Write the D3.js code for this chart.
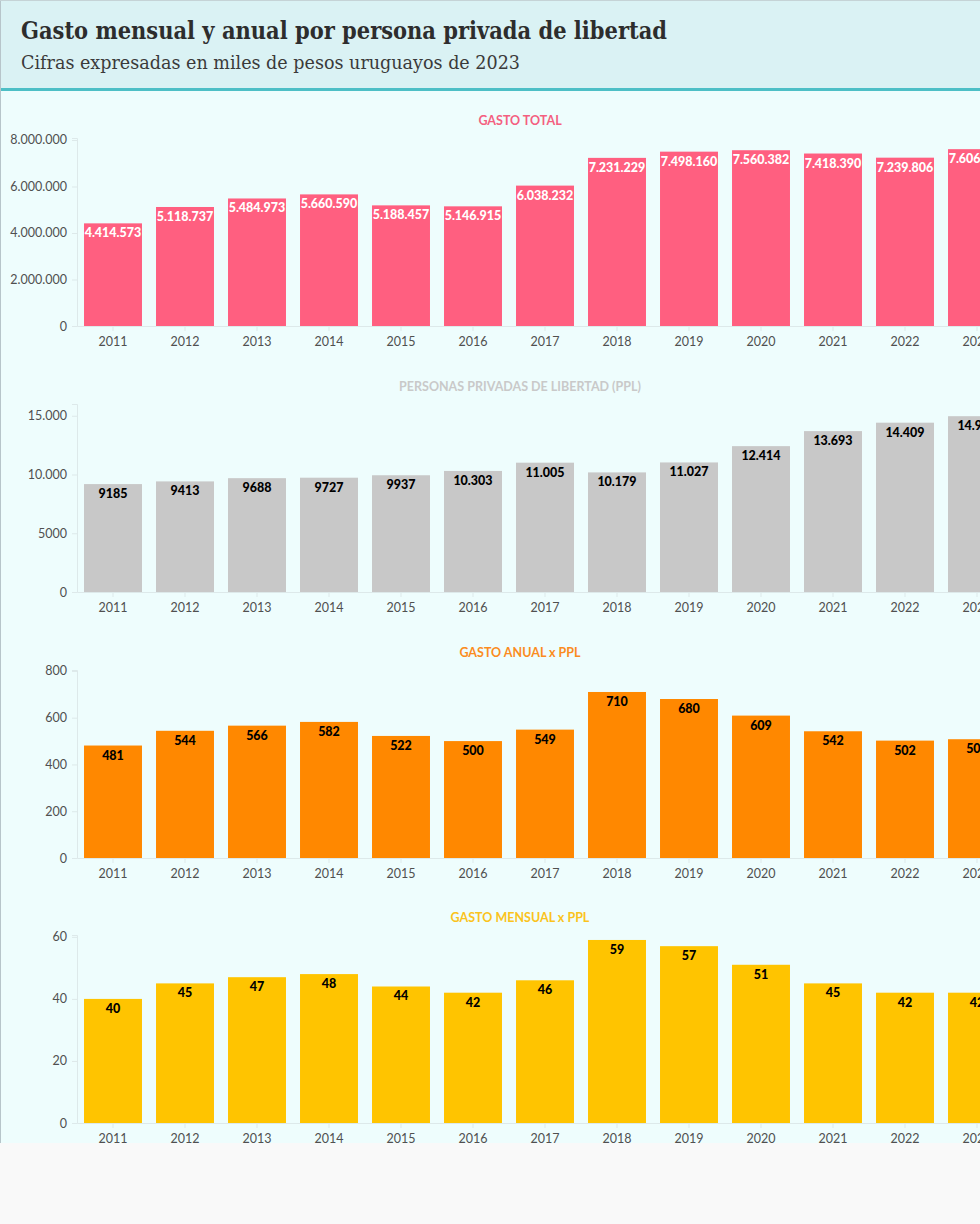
<!DOCTYPE html>
<html><head><meta charset="utf-8">
<script src="https://cdn.jsdelivr.net/npm/d3@7"></script>
<style>
html,body{margin:0;padding:0;background:#f9f9f9;overflow:hidden;}
svg{display:block;}
</style></head>
<body>
<script>
const years = [2011,2012,2013,2014,2015,2016,2017,2018,2019,2020,2021,2022,2023];
const gastoTotal = [4414573,5118737,5484973,5660590,5188457,5146915,6038232,7231229,7498160,7560382,7418390,7239806,7606200];
const personasPPL = [9185,9413,9688,9727,9937,10303,11005,10179,11027,12414,13693,14409,14963];
const gastoAnual = [481,544,566,582,522,500,549,710,680,609,542,502,508];
const gastoMensual = [40,45,47,48,44,42,46,59,57,51,45,42,42];
const ticksTotal = [0,2000000,4000000,6000000,8000000];
const ticksPPL = [0,5000,10000,15000];
const ticksAnual = [0,200,400,600,800];
const ticksMensual = [0,20,40,60];
const panelTitles = ["GASTO TOTAL","PERSONAS PRIVADAS DE LIBERTAD (PPL)","GASTO ANUAL x PPL","GASTO MENSUAL x PPL"];
const titleText = "Gasto mensual y anual por persona privada de libertad";
const subtitleText = "Cifras expresadas en miles de pesos uruguayos de 2023";

function fmt(v){
  const s = Math.round(v).toString();
  if (Math.abs(v) < 10000) return s;
  return s.replace(/\B(?=(\d{3})+(?!\d))/g, ".");
}

const W = 980, H = 1143;
const svg = d3.select("body").append("svg").attr("width", W).attr("height", H);
svg.append("rect").attr("width", W).attr("height", H).attr("fill", "#eefdfd");
svg.append("rect").attr("width", W).attr("height", 89).attr("fill", "#daf2f4");
svg.append("rect").attr("y", 88).attr("width", W).attr("height", 3).attr("fill", "#4dbfc6");
svg.append("line").attr("x1", 0.5).attr("x2", 0.5).attr("y1", 0).attr("y2", H).attr("stroke", "#b7c5ca");
svg.append("line").attr("x1", 0).attr("x2", W).attr("y1", 0.5).attr("y2", 0.5).attr("stroke", "#c5d3d6");

svg.append("text").attr("x", 21).attr("y", 39).text(titleText)
  .attr("font-family", "'DejaVu Serif', serif").attr("font-weight", "bold").attr("font-size", 25)
  .attr("fill", "#2d2d2d").attr("textLength", 646).attr("lengthAdjust", "spacingAndGlyphs");
svg.append("text").attr("x", 21).attr("y", 69).text(subtitleText)
  .attr("font-family", "'DejaVu Serif', serif").attr("font-size", 19)
  .attr("fill", "#3a3a3a").attr("textLength", 499).attr("lengthAdjust", "spacingAndGlyphs");

const panels = [
  {title: panelTitles[0], values: gastoTotal, ticks: ticksTotal, max: 8086000, color: "#ff5f80", titleColor: "#f45f80", label: "#ffffff"},
  {title: panelTitles[1], values: personasPPL, ticks: ticksPPL, max: 16000, color: "#c8c8c8", titleColor: "#c9c9c9", label: "#000000"},
  {title: panelTitles[2], values: gastoAnual, ticks: ticksAnual, max: 804, color: "#ff8800", titleColor: "#fb8c1e", label: "#000000"},
  {title: panelTitles[3], values: gastoMensual, ticks: ticksMensual, max: 60.6, color: "#ffc400", titleColor: "#fbc31c", label: "#000000"}
];
const bases = [326, 592, 858, 1123];

const font = "Lato, 'Noto Sans', sans-serif";
const x = d3.scaleBand().domain(years).range([77, 1013]).paddingInner(0.195).paddingOuter(0.0975);

panels.forEach((p, i) => {
  const base = bases[i];
  const top = base - 188;
  const y = d3.scaleLinear().domain([0, p.max]).range([base, top]);
  const g = svg.append("g");

  g.append("text").attr("x", 520).attr("y", top - 13).attr("text-anchor", "middle")
    .attr("font-family", font).attr("font-weight", "bold").attr("font-size", 12.5)
    .attr("fill", p.titleColor).text(p.title);

  const yAxis = g.append("g").attr("transform", `translate(77,0)`)
    .call(d3.axisLeft(y).tickValues(p.ticks).tickFormat(fmt).tickSize(5).tickPadding(5));
  yAxis.select(".domain").attr("stroke", "#dde9ea");
  yAxis.selectAll(".tick line").attr("stroke", "#dde9ea");
  yAxis.selectAll("text").attr("font-family", font).attr("font-size", 12.5).attr("fill", "#505050");

  const xAxis = g.append("g").attr("transform", `translate(0,${base})`)
    .call(d3.axisBottom(x).tickSize(5).tickPadding(6).tickSizeOuter(0));
  xAxis.select(".domain").attr("stroke", "#dde9ea");
  xAxis.selectAll(".tick line").attr("stroke", "#dde9ea");
  xAxis.selectAll("text").attr("font-family", font).attr("font-size", 12.5).attr("fill", "#505050");

  g.selectAll("rect.bar").data(p.values).join("rect").attr("class", "bar")
    .attr("x", (d, j) => x(years[j])).attr("width", x.bandwidth())
    .attr("y", d => y(d)).attr("height", d => base - y(d)).attr("fill", p.color);

  g.selectAll("text.lbl").data(p.values).join("text").attr("class", "lbl")
    .attr("x", (d, j) => x(years[j]) + x.bandwidth() / 2).attr("y", d => y(d) + 14)
    .attr("text-anchor", "middle").attr("font-family", font).attr("font-weight", "900")
    .attr("font-size", 12.5).attr("fill", p.label).text(d => fmt(d));
});
</script>
</body></html>
